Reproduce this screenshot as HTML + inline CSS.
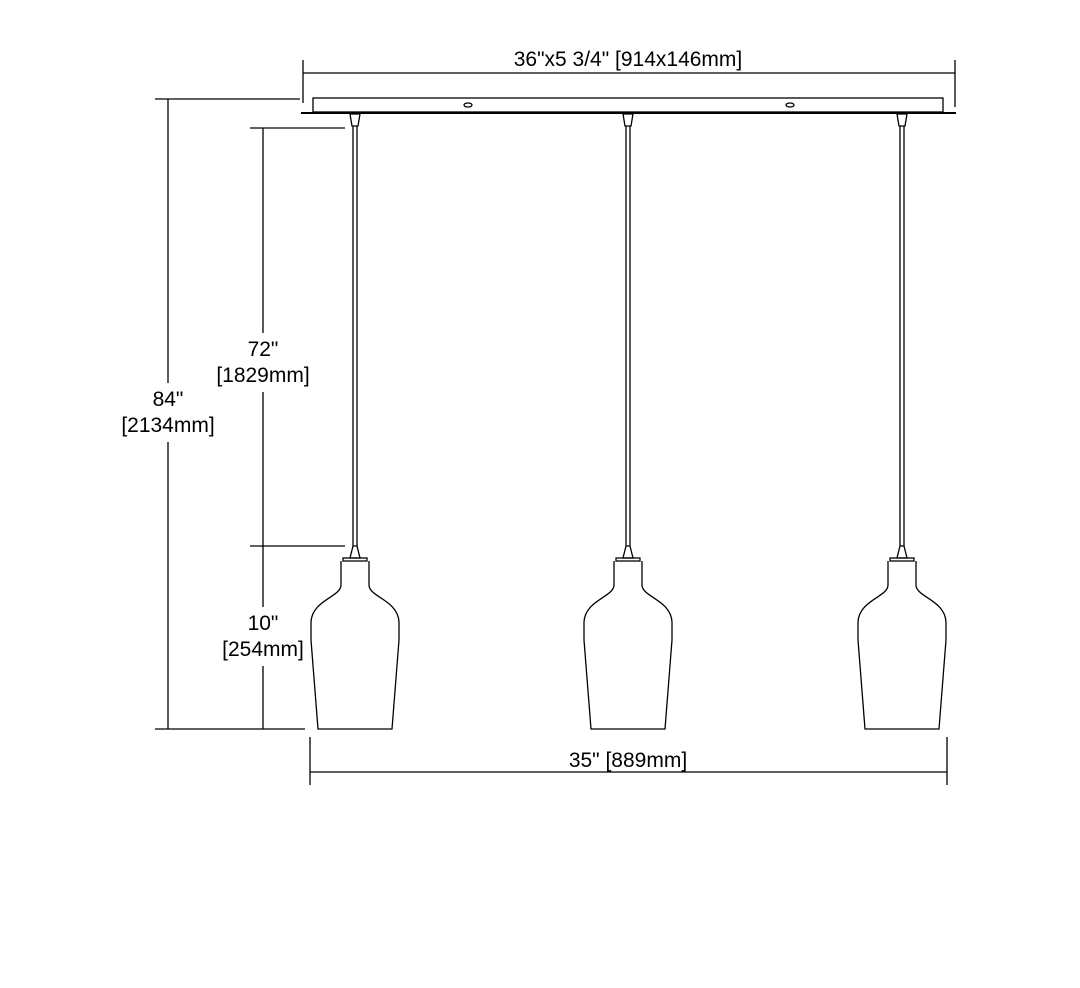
<!DOCTYPE html>
<html><head><style>body{margin:0;background:#fff}</style></head><body>
<svg width="1080" height="983" xmlns="http://www.w3.org/2000/svg" font-family="Liberation Sans, sans-serif" font-size="21" fill="none" stroke="#000" stroke-width="1.3">
<line x1="303" y1="73" x2="955" y2="73"/>
<line x1="303" y1="60" x2="303" y2="103"/>
<line x1="955" y1="60" x2="955" y2="107"/>
<rect x="313" y="98" width="630" height="14"/>
<line x1="301" y1="113" x2="956" y2="113" stroke-width="2"/>
<ellipse cx="468" cy="105" rx="4" ry="2"/>
<ellipse cx="790" cy="105" rx="4" ry="2"/>
<line x1="155" y1="99" x2="300" y2="99"/>
<line x1="168" y1="99" x2="168" y2="383"/>
<line x1="168" y1="442" x2="168" y2="729"/>
<line x1="155" y1="729" x2="305" y2="729"/>
<line x1="250" y1="128" x2="345" y2="128"/>
<line x1="263" y1="128" x2="263" y2="333"/>
<line x1="263" y1="392" x2="263" y2="607"/>
<line x1="263" y1="666" x2="263" y2="729"/>
<line x1="250" y1="546" x2="345" y2="546"/>
<line x1="310" y1="772" x2="947" y2="772"/>
<line x1="310" y1="737" x2="310" y2="785"/>
<line x1="947" y1="737" x2="947" y2="785"/>
<g id="p">
<path d="M350 114 L360 114 L358 126 L352 126 Z"/>
<line x1="353" y1="126" x2="353" y2="546"/>
<line x1="357" y1="126" x2="357" y2="546"/>
<path d="M353 546 L357 546 L360 558 L350 558 Z"/>
<rect x="343" y="558" width="24" height="3"/>
<path d="M341 561 L341 585 C341 597 312 600 311 622 L311 640 L318 729 L392 729 L399 640 L399 622 C398 600 369 597 369 585 L369 561"/>
</g>
<use href="#p" x="273"/>
<use href="#p" x="547"/>
<g fill="#000" stroke="none" text-anchor="middle">
<text x="628" y="66">36"x5 3/4" [914x146mm]</text>
<text x="168" y="406">84"</text>
<text x="168" y="432">[2134mm]</text>
<text x="263" y="356">72"</text>
<text x="263" y="382">[1829mm]</text>
<text x="263" y="630">10"</text>
<text x="263" y="656">[254mm]</text>
<text x="628" y="767">35" [889mm]</text>
</g>
</svg>
</body></html>
